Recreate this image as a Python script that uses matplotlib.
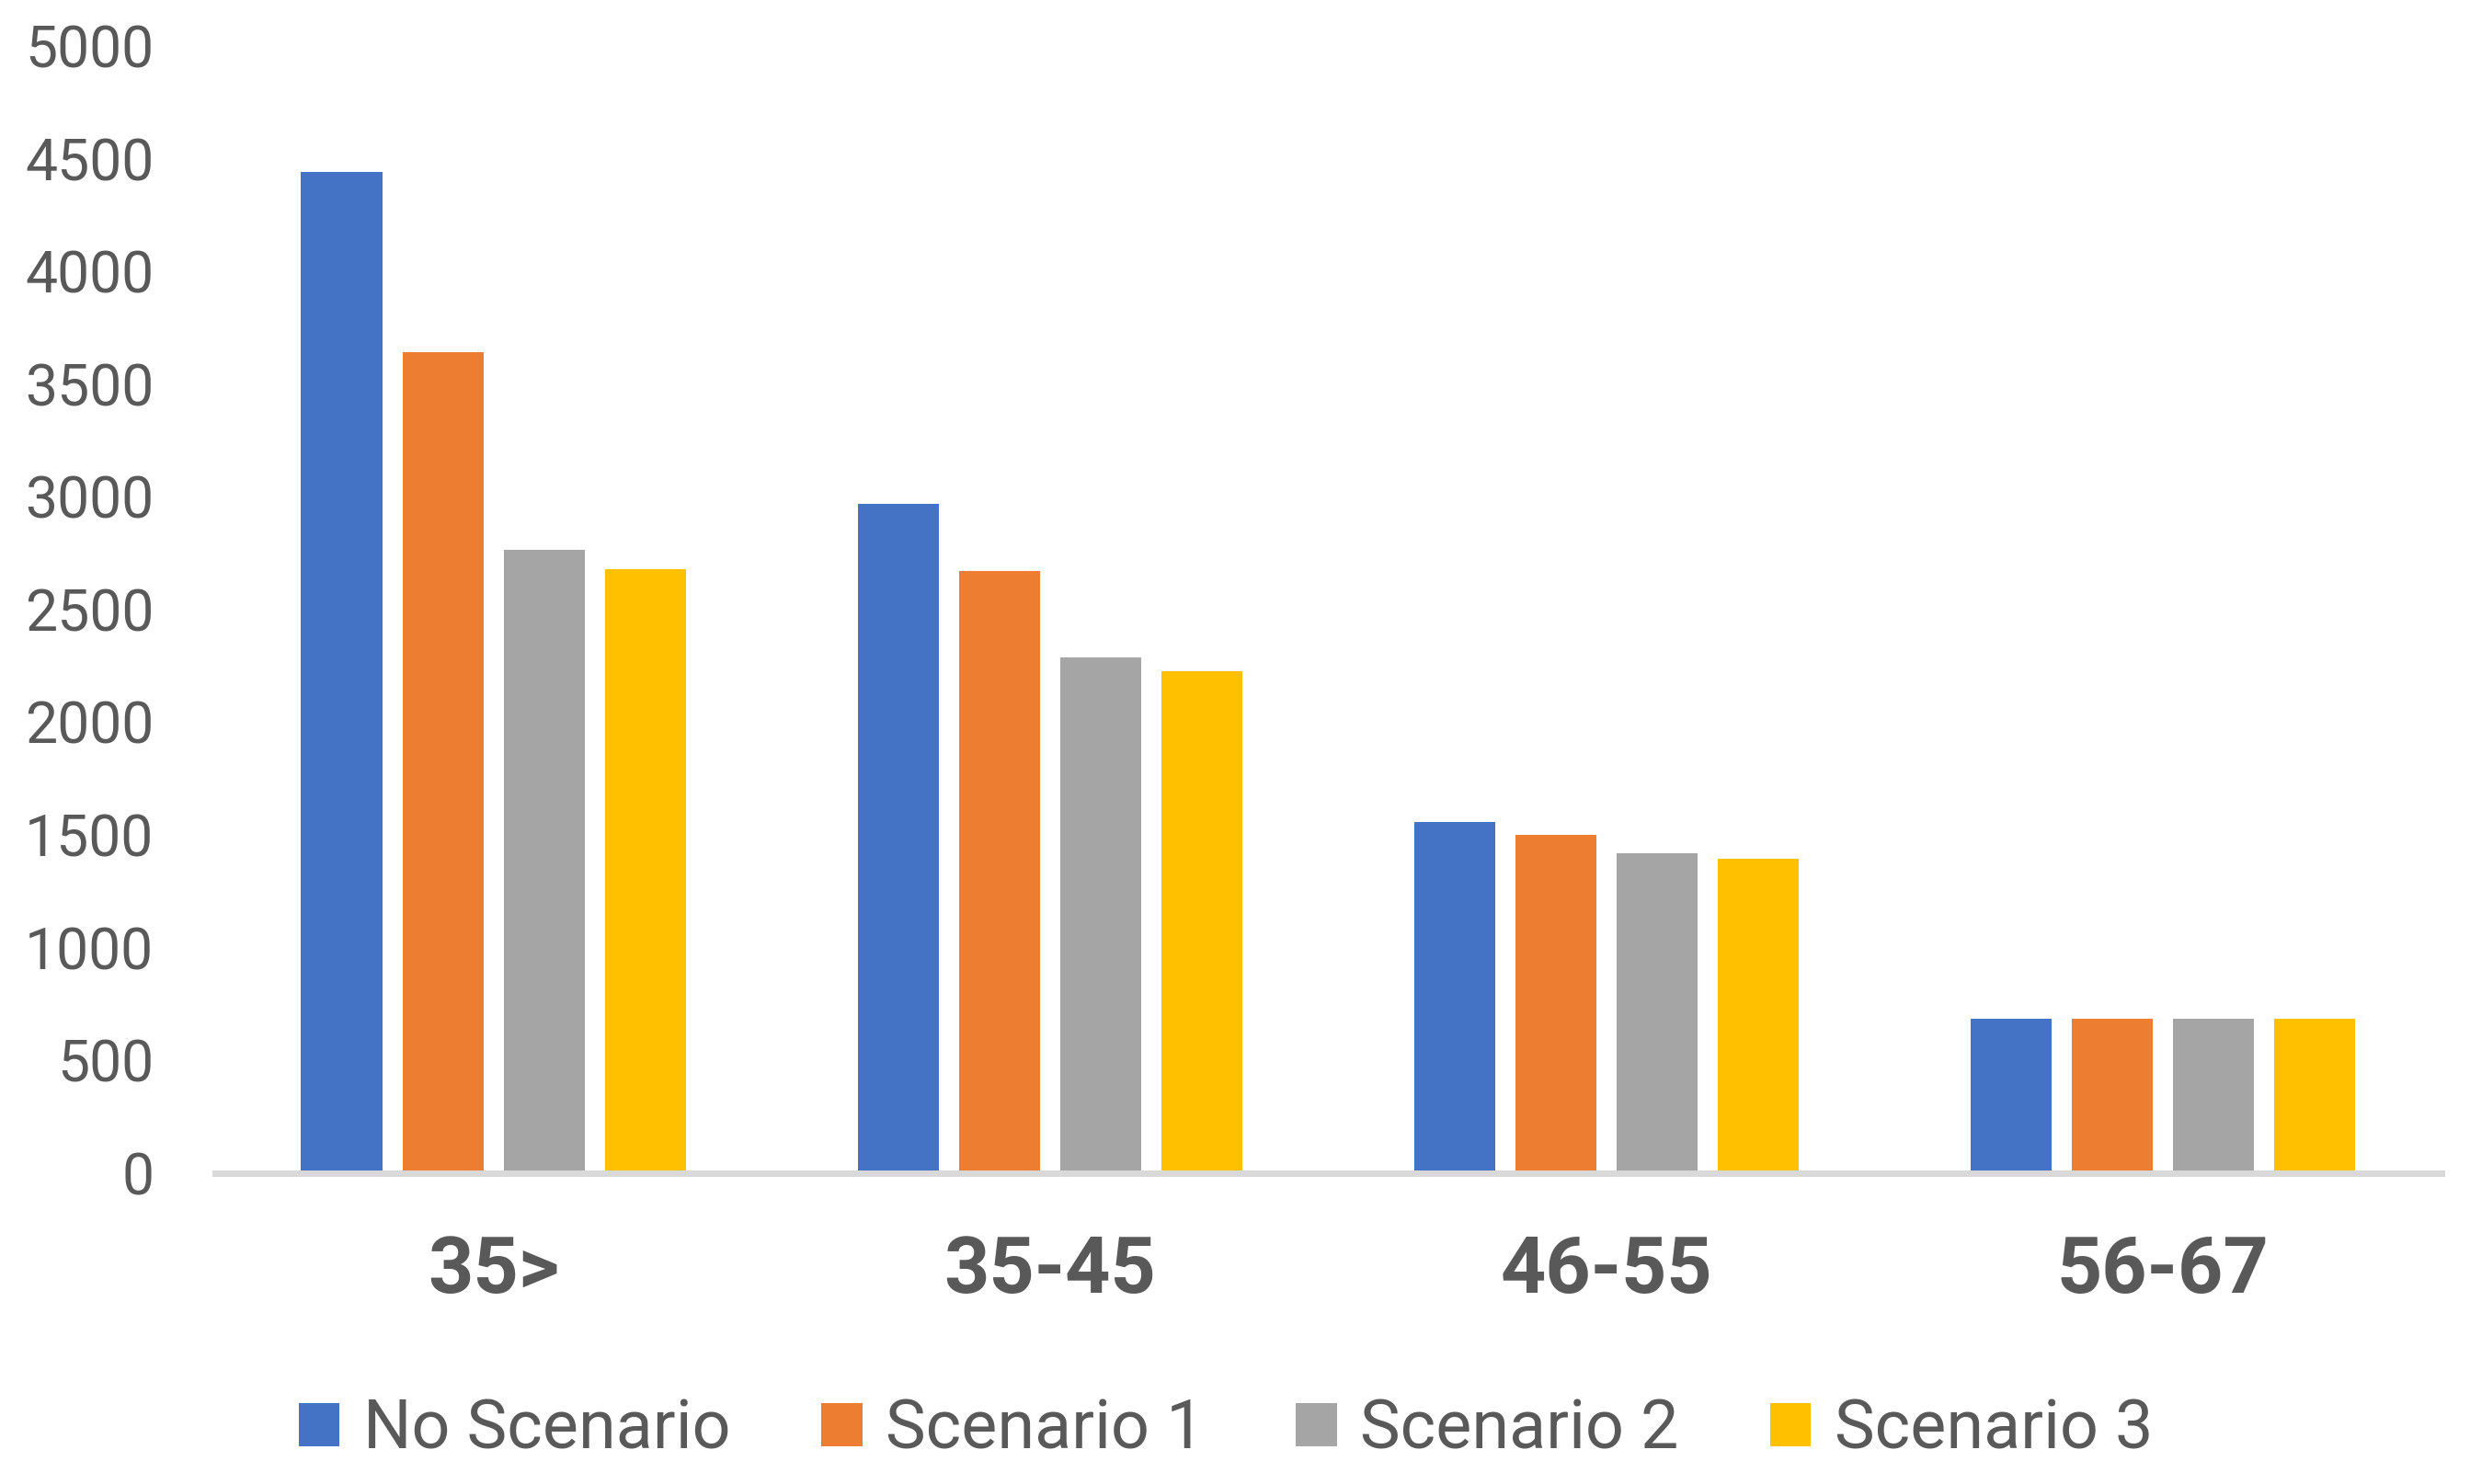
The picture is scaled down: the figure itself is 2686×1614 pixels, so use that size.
import numpy as np
import matplotlib
matplotlib.use('Agg')
import matplotlib.pyplot as plt

# data
age_groups = ['35>', '35-45', '46-55', '56-67']
series_names = ['No Scenario', 'Scenario 1', 'Scenario 2', 'Scenario 3']
no_scenario = [4440, 2970, 1557, 685]
scenario_1 = [3642, 2671, 1500, 685]
scenario_2 = [2765, 2287, 1418, 685]
scenario_3 = [2679, 2226, 1394, 685]
y_ticks = list(range(0, 5001, 500))

colors = ['#4472C4', '#ED7D31', '#A5A5A5', '#FFC000']
text_color = '#595959'

plt.rcParams['font.family'] = ['Roboto', 'DejaVu Sans']

fig = plt.figure(figsize=(26.86, 16.14), dpi=100)
ax = fig.add_axes([0.0871, 0.2096, 0.9013, 0.7594])

x = np.arange(len(age_groups))
bar_w = 0.1455
step = 0.1818
all_series = [no_scenario, scenario_1, scenario_2, scenario_3]
for i, vals in enumerate(all_series):
    ax.bar(x + (i - 1.5) * step, vals, width=bar_w, color=colors[i],
           label=series_names[i], zorder=1)

ax.set_xlim(-0.5, len(age_groups) - 0.5)
ax.set_ylim(0, 5000)
ax.set_yticks(y_ticks)
ax.set_yticklabels([str(t) for t in y_ticks], fontsize=45, color=text_color)
ax.set_xticks(x)
ax.set_xticklabels(age_groups, fontsize=62, fontweight='bold', color=text_color)
ax.tick_params(axis='y', length=0, pad=48)
ax.tick_params(axis='x', length=0, pad=48)

for s in ['top', 'right', 'left']:
    ax.spines[s].set_visible(False)
ax.spines['bottom'].set_color('#D9D9D9')
ax.spines['bottom'].set_linewidth(5)
ax.spines['bottom'].set_zorder(3)

leg = fig.legend(loc='center', bbox_to_anchor=(0.4963, 0.0366), ncol=4,
                 frameon=False, fontsize=53, handlelength=0.6, handleheight=0.6,
                 handletextpad=0.35, columnspacing=1.35)
for t in leg.get_texts():
    t.set_color(text_color)

fig.savefig('out.png', dpi=100)
